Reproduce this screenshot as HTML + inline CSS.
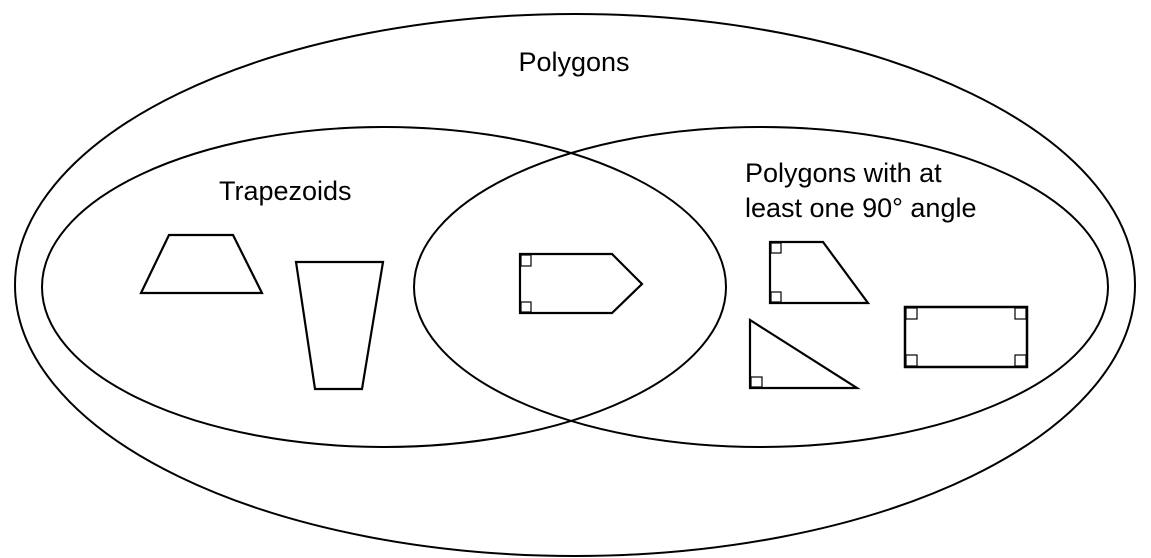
<!DOCTYPE html>
<html><head><style>
html,body{margin:0;padding:0;background:#fff;}
svg{display:block;}
text{font-family:"Liberation Sans",Arial,sans-serif;font-size:27px;fill:#000;}
</style></head><body>
<svg width="1151" height="558" viewBox="0 0 1151 558" xmlns="http://www.w3.org/2000/svg">
<g fill="none" stroke="#000" stroke-width="2">
<ellipse cx="575" cy="285" rx="560" ry="271"/>
<ellipse cx="384" cy="287" rx="342" ry="160"/>
<ellipse cx="761" cy="287" rx="347" ry="160"/>
<polygon points="141,293 169,235 233,235 262,293" stroke-width="2.2"/>
<polygon points="296,262 383,262 362,389 315,389" stroke-width="2.2"/>
<polygon points="520,254 612,254 642,284 612,313 520,313" stroke-width="2.2"/>
<polygon points="770,242 823,242 868,303 770,303" stroke-width="2.2"/>
<polygon points="750,320 750,388 857,388" stroke-width="2.2"/>
<rect x="905" y="307" width="122" height="60" stroke-width="2.5"/>
</g>
<g fill="none" stroke="#000" stroke-width="1.2">
<rect x="521" y="255" width="10" height="11"/>
<rect x="521" y="302" width="10" height="10"/>
<rect x="771" y="243" width="10" height="10"/>
<rect x="771" y="292" width="10" height="10"/>
<rect x="751" y="377" width="11" height="10"/>
<rect x="906" y="308" width="11" height="11"/>
<rect x="1015" y="308" width="11" height="11"/>
<rect x="906" y="355" width="11" height="11"/>
<rect x="1015" y="355" width="11" height="11"/>
</g>
<text x="574" y="71" text-anchor="middle">Polygons</text>
<text x="219" y="200">Trapezoids</text>
<text x="745" y="182">Polygons with at</text>
<text x="745" y="217">least one 90° angle</text>
</svg>
</body></html>
